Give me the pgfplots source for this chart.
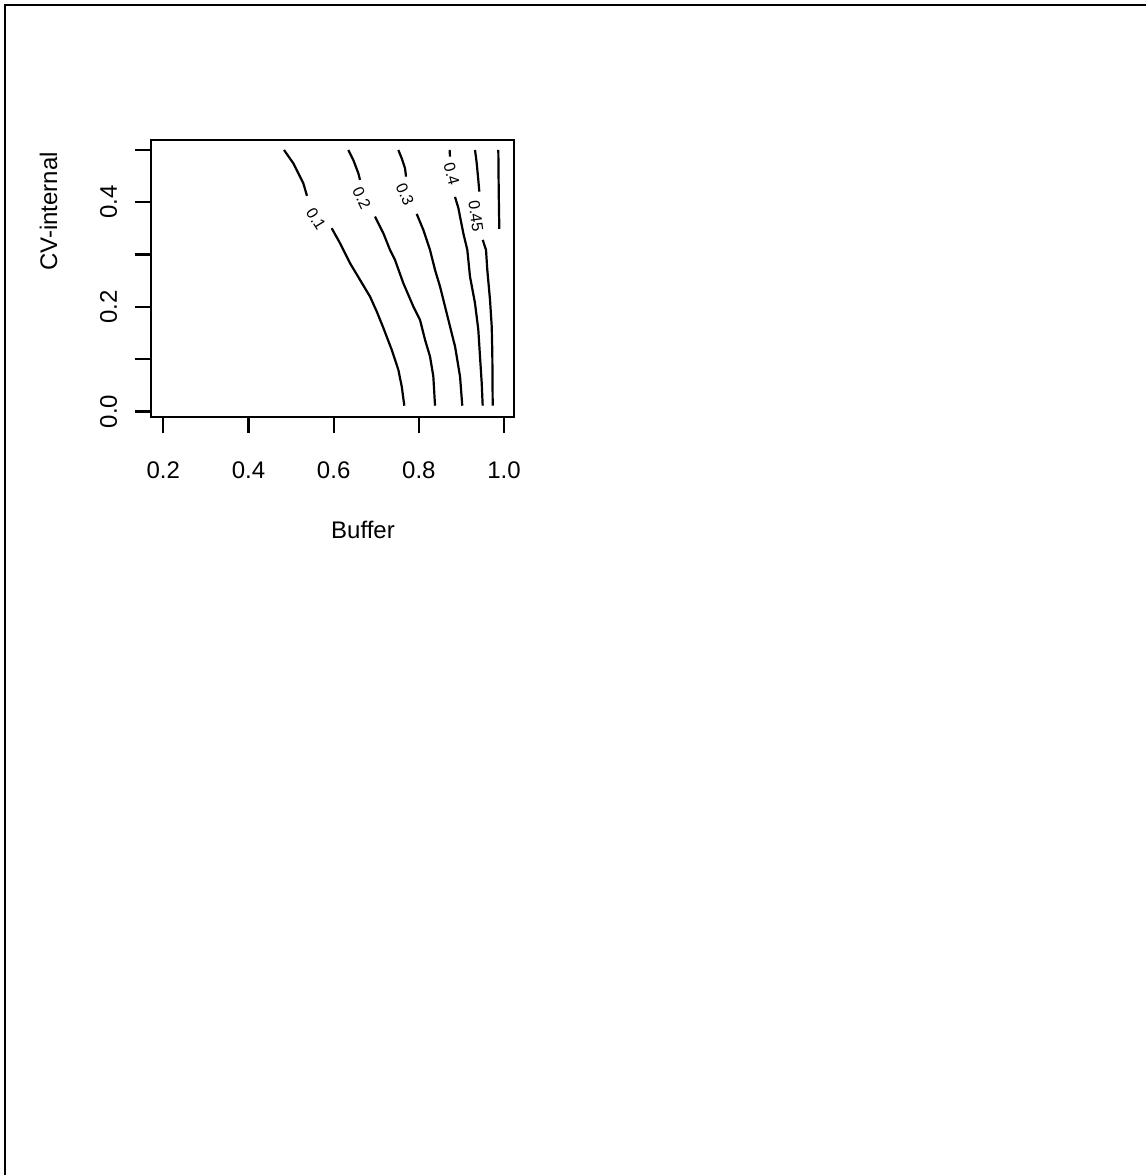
\documentclass[border=0pt]{standalone}
\usepackage{fontspec}
\setmainfont{Liberation Sans}
\usepackage{pgfplots}
\pgfplotsset{compat=1.18}

\begin{document}
\begin{tikzpicture}[
  contlab/.style={font=\fontsize{8}{9}\selectfont, inner sep=0pt},
  cl/.style={black, line width=1.1pt, mark=none}]
\useasboundingbox (0,0) rectangle (573pt,587.5pt);
% page frame (only top and left edges visible)
\draw[line width=1pt] (2.5pt,0pt) -- (2.5pt,585pt) -- (573pt,585pt);
\begin{axis}[
  at={(75.35pt,379pt)}, anchor=south west,
  scale only axis, width=181.65pt, height=138.5pt,
  xmin=0.1704, xmax=1.0234, ymin=-0.0107, ymax=0.5191,
  axis line style={line width=1.1pt},
  xtick={0.2,0.4,0.6,0.8,1.0}, xticklabels={0.2,0.4,0.6,0.8,1.0},
  ytick={0,0.1,0.2,0.3,0.4,0.5}, yticklabels={0.0,,0.2,,0.4,},
  xtick pos=left, ytick pos=left,
  tick align=outside, major tick length=8pt,
  every tick/.style={line width=1.1pt, black},
  /pgf/number format/assume math mode=true,
  tick label style={font=\fontsize{12}{14}\selectfont},
  xticklabel style={anchor=base}, xticklabel shift=22.6pt,
  yticklabel style={rotate=90, anchor=base}, yticklabel shift=8.85pt,
  xlabel={Buffer}, ylabel={CV-internal},
  label style={font=\fontsize{12}{14}\selectfont},
  xlabel style={at={(axis description cs:0.5843,-0.44)}, anchor=base},
  ylabel style={at={(axis description cs:-0.2579,0.7414)}, anchor=base},
]
% level 0.1
\addplot[cl] coordinates {(0.4834,0.5) (0.5052,0.4746) (0.5287,0.4364) (0.5374,0.4122)};
\addplot[cl] coordinates {(0.5954,0.3504) (0.6149,0.3217) (0.6384,0.2835) (0.6618,0.2516)
  (0.6853,0.2197) (0.7011,0.1911) (0.7166,0.1599) (0.7363,0.1179) (0.7518,0.0797)
  (0.7598,0.0478) (0.7659,0.0109)};
% level 0.2
\addplot[cl] coordinates {(0.6344,0.5) (0.6461,0.4809) (0.6579,0.4555) (0.6618,0.4427)};
\addplot[cl] coordinates {(0.6971,0.3726) (0.7166,0.3408) (0.7323,0.3089) (0.7440,0.2898)
  (0.7635,0.2453) (0.7870,0.2006) (0.8027,0.1752) (0.8145,0.1370) (0.8262,0.1051)
  (0.8340,0.0669) (0.8380,0.0109)};
% level 0.3
\addplot[cl] coordinates {(0.7518,0.5) (0.7598,0.4841) (0.7675,0.4650) (0.7699,0.4490)};
\addplot[cl] coordinates {(0.7950,0.3777) (0.8105,0.3472) (0.8262,0.3089) (0.8380,0.2707)
  (0.8497,0.2388) (0.8615,0.2006) (0.8732,0.1624) (0.8850,0.1242) (0.8967,0.0669)
  (0.9020,0.0109)};
% level 0.4
\addplot[cl] coordinates {(0.8722,0.5) (0.8732,0.4872)};
\addplot[cl] coordinates {(0.8849,0.4102) (0.8927,0.3892) (0.8967,0.3726) (0.9044,0.3408)
  (0.9138,0.3089) (0.9201,0.2579) (0.9318,0.2071) (0.9396,0.1561) (0.9436,0.1051)
  (0.9476,0.0543) (0.9499,0.0109)};
% level 0.45
\addplot[cl] coordinates {(0.9319,0.5) (0.9359,0.4746) (0.9396,0.4427) (0.9420,0.4203)};
\addplot[cl] coordinates {(0.9500,0.3280) (0.9577,0.3089) (0.9607,0.2707) (0.9671,0.2134)
  (0.9711,0.1624) (0.9725,0.1116) (0.9734,0.0109)};
% unlabelled top-right level
\addplot[cl] coordinates {(0.9866,0.5) (0.9875,0.4236) (0.9889,0.3491)};
% contour labels
\node[contlab, rotate=-58] at (axis cs:0.5586,0.368) {0.1};
\node[contlab, rotate=-64] at (axis cs:0.6658,0.4077) {0.2};
\node[contlab, rotate=-66] at (axis cs:0.7675,0.4159) {0.3};
\node[contlab, rotate=-75] at (axis cs:0.8767,0.4541) {0.4};
\node[contlab, rotate=-82] at (axis cs:0.9342,0.3739) {0.45};
\end{axis}
\end{tikzpicture}
\end{document}
